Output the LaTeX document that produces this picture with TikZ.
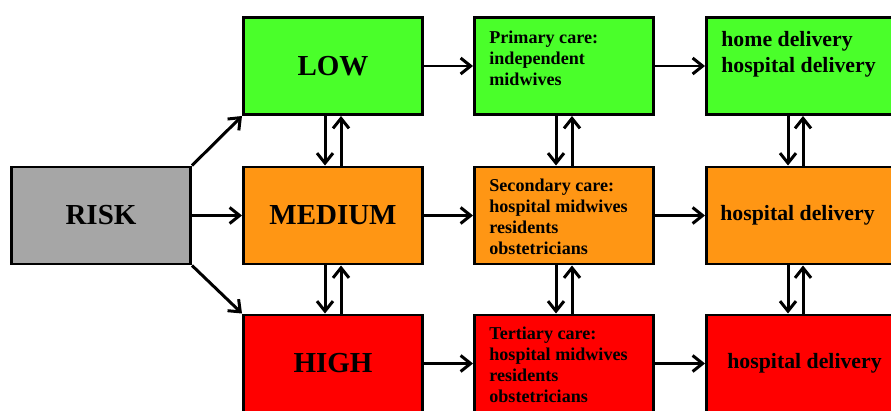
\documentclass[tikz,border=0pt]{standalone}
\usepackage{fontspec}
\setmainfont{Liberation Serif}
\usetikzlibrary{positioning}
\usetikzlibrary{arrows.meta}
\definecolor{lowgreen}{RGB}{74,255,42}
\definecolor{medorange}{RGB}{255,150,20}
\definecolor{highred}{RGB}{255,0,0}
\definecolor{riskgray}{RGB}{166,166,166}
\begin{document}
\begin{tikzpicture}[
		box/.style={rectangle, draw=black, line width=1.7pt, minimum width=3.58cm, minimum height=1.94cm, inner sep=0pt, font=\fontsize{16.5}{19}\selectfont\bfseries},
		widebox/.style={box, minimum width=4.4cm, anchor=west},
		caretext/.style={anchor=north west, inner sep=0pt, align=left, font=\fontsize{10.3}{11.9}\selectfont\bfseries},
		deltext/.style={inner sep=0pt, align=left, font=\fontsize{12.4}{14.8}\selectfont\bfseries},
		arrow/.style={-{Straight Barb[length=0.2cm,width=0.32cm]}, line width=1.7pt}]
		\useasboundingbox (0,0) rectangle (17.82,-8.2);
		\clip (0,0) rectangle (17.82,-8.2);
		\node[box, fill=riskgray](risk)      at (2.02,-4.31) {RISK};
		\node[box, fill=lowgreen](low)       at (6.66,-1.32) {LOW};
		\node[box, fill=medorange](medium)   at (6.66,-4.31) {MEDIUM};
		\node[box, fill=highred](high)       at (6.66,-7.27) {HIGH};
		\node[box, fill=lowgreen](primary)   at (11.28,-1.32){};
		\node[box, fill=medorange](secondary) at (11.28,-4.31){};
		\node[box, fill=highred](tertiary)   at (11.28,-7.27){};
		\node[widebox, fill=lowgreen](dlow)     at (14.10,-1.32){};
		\node[widebox, fill=medorange](dmedium) at (14.10,-4.31){};
		\node[widebox, fill=highred](dhigh)     at (14.10,-7.27){};
		\node[caretext](primarytext)   at ([xshift=0.32cm,yshift=-0.29cm]primary.north west){Primary care:\\independent\\midwives};
		\node[caretext](secondarytext) at ([xshift=0.32cm,yshift=-0.27cm]secondary.north west){Secondary care:\\hospital midwives\\residents\\obstetricians};
		\node[caretext](tertiarytext)  at ([xshift=0.32cm,yshift=-0.27cm]tertiary.north west){Tertiary care:\\hospital midwives\\residents\\obstetricians};
		\node[deltext, anchor=north west](dlowtext) at ([xshift=0.32cm,yshift=-0.3cm]dlow.north west){home delivery\\hospital delivery};
		\node[deltext, anchor=west](dmediumtext)    at ([xshift=0.3cm]dmedium.west){hospital delivery};
		\node[deltext, anchor=west](dhightext)      at ([xshift=0.44cm]dhigh.west){hospital delivery};
		\draw [arrow] (risk.north east) -- (low.south west);
		\draw [arrow] (risk) -- (medium);
		\draw [arrow] (risk.south east) -- (high.north west);
		\draw [arrow] (low) -- (primary);
		\draw [arrow] (medium) -- (secondary);
		\draw [arrow] (high) -- (tertiary);
		\draw [arrow] (primary) -- (dlow);
		\draw [arrow] (secondary) -- (dmedium);
		\draw [arrow] (tertiary) -- (dhigh);
		\draw [arrow] ([xshift=-0.16cm]low.south) -- ([xshift=-0.16cm]medium.north);
		\draw [arrow] ([xshift=0.16cm]medium.north) -- ([xshift=0.16cm]low.south);
		\draw [arrow] ([xshift=-0.16cm]medium.south) -- ([xshift=-0.16cm]high.north);
		\draw [arrow] ([xshift=0.16cm]high.north) -- ([xshift=0.16cm]medium.south);
		\draw [arrow] ([xshift=-0.16cm]primary.south) -- ([xshift=-0.16cm]secondary.north);
		\draw [arrow] ([xshift=0.16cm]secondary.north) -- ([xshift=0.16cm]primary.south);
		\draw [arrow] ([xshift=-0.16cm]secondary.south) -- ([xshift=-0.16cm]tertiary.north);
		\draw [arrow] ([xshift=0.16cm]tertiary.north) -- ([xshift=0.16cm]secondary.south);
		\draw [arrow] ([xshift=1.66cm]dlow.south west) -- ([xshift=1.66cm]dmedium.north west);
		\draw [arrow] ([xshift=1.96cm]dmedium.north west) -- ([xshift=1.96cm]dlow.south west);
		\draw [arrow] ([xshift=1.66cm]dmedium.south west) -- ([xshift=1.66cm]dhigh.north west);
		\draw [arrow] ([xshift=1.96cm]dhigh.north west) -- ([xshift=1.96cm]dmedium.south west);
	\end{tikzpicture}
\end{document}
